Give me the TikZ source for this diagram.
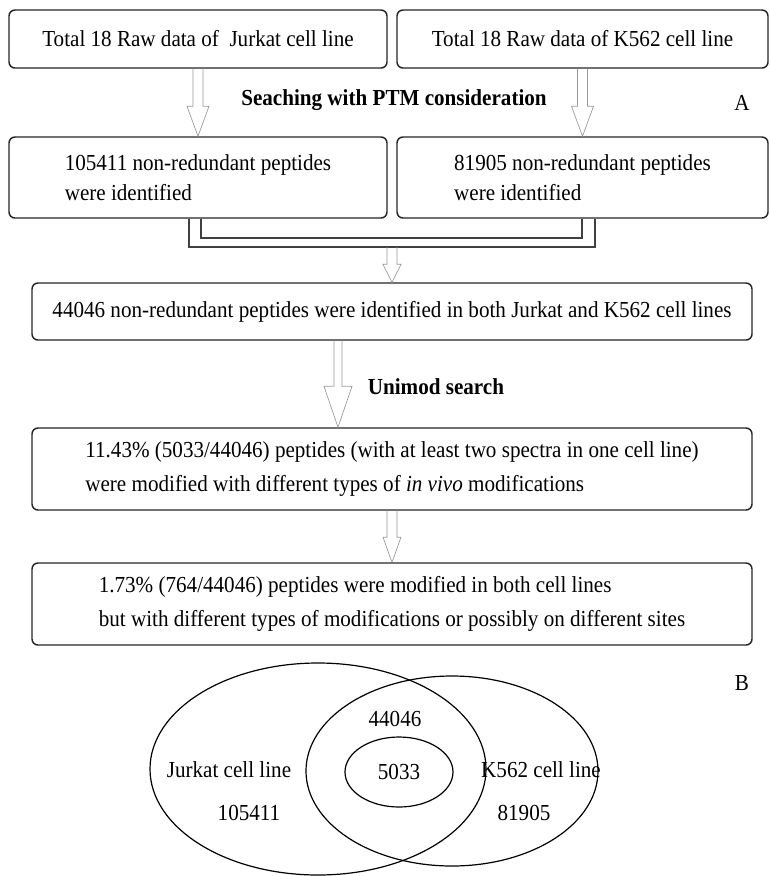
\documentclass[tikz,border=0pt]{standalone}
\usepackage{fontspec}
\setmainfont[FakeStretch=0.92]{Liberation Serif}
\usetikzlibrary{calc}
\tikzset{
  box/.style={draw=black!85, line width=1.1pt, rounded corners=4.5pt, inner sep=0pt, fill=white},
  arrowline/.style={draw=black!40, line width=0.5pt},
  mergeline/.style={draw=black!75, line width=1pt},
  vennline/.style={draw=black, line width=0.9pt},
  txt/.style={font=\fontsize{17.2}{20}\selectfont},
  lbl/.style={font=\bfseries\fontsize{17.2}{20}\selectfont},
}
\newcommand\blockarrow[5]{%
  \draw[arrowline] ($(#1)+(-#3,0)$) -- ($(#2)+(-#3,-#5)$) -- ($(#2)+(-#4,-#5)$) -- (#2)
    -- ($(#2)+(#4,-#5)$) -- ($(#2)+(#3,-#5)$) -- ($(#1)+(#3,0)$);}
\begin{document}
\begin{tikzpicture}[x=0.75pt,y=-0.75pt]
\useasboundingbox[fill=white] (0,0) rectangle (770,876);

% top boxes
\node[box, txt, minimum width=378*0.75pt, minimum height=58*0.75pt] (b1) at (198,39) {Total 18 Raw data of\ \ Jurkat cell line};
\node[box, txt, minimum width=371*0.75pt, minimum height=58*0.75pt] (b2) at (582.5,39) {Total 18 Raw data of K562 cell line};

\node[lbl] (lsearch) at (394,100) {Seaching with PTM consideration};
\node[txt] (lA) at (742,103) {A};

\node[box, align=left, font=\fontsize{17.2}{22.5}\selectfont, minimum width=378*0.75pt, minimum height=81*0.75pt] (b3) at (198,177.5) {105411 non-redundant peptides\\were identified};
\node[box, align=left, font=\fontsize{17.2}{22.5}\selectfont, minimum width=371*0.75pt, minimum height=81*0.75pt] (b4) at (582.5,177.5) {81905 non-redundant peptides\\were identified};

\node[box, txt, minimum width=720*0.75pt, minimum height=57*0.75pt] (b5) at (392,311.5) {44046 non-redundant peptides were identified in both Jurkat and K562 cell lines};

\node[lbl] (lunimod) at (436,387) {Unimod search};

\node[box, align=left, font=\fontsize{17.2}{26}\selectfont, minimum width=720*0.75pt, minimum height=82*0.75pt] (b6) at (392,469) {11.43\% (5033/44046) peptides (with at least two spectra in one cell line)\\were modified with different types of \textit{in vivo} modifications};

\node[box, align=left, font=\fontsize{17.2}{25.5}\selectfont, minimum width=720*0.75pt, minimum height=82*0.75pt] (b7) at (392,604) {1.73\% (764/44046) peptides were modified in both cell lines\\but with different types of modifications or possibly on different sites};

\node[txt] (lB) at (742,683) {B};

% arrows top
\coordinate (a1s) at (b1.south);
\coordinate (a1e) at (b3.north);
\blockarrow{a1s}{a1e}{5}{11}{30}
\coordinate (a2s) at (b2.south);
\coordinate (a2e) at (b4.north);
\blockarrow{a2s}{a2e}{5}{11}{30}

% merge connector
\coordinate (mLo) at (189,247);
\coordinate (mRo) at (595,247);
\coordinate (mLi) at (201,238);
\coordinate (mRi) at (582,238);
\draw[mergeline] (mLo |- b3.south) -- (mLo) -- (mRo) -- (mRo |- b4.south);
\draw[mergeline] (mLi |- b3.south) -- (mLi) -- (mRi) -- (mRi |- b4.south);
\coordinate (ms) at (b5.north |- mLo);
\coordinate (me) at (b5.north);
\blockarrow{ms}{me}{5}{9}{18}

% arrow 3
\coordinate (a3s) at ($(b5.south)+(-54,0)$);
\coordinate (a3e) at (a3s |- b6.north);
\blockarrow{a3s}{a3e}{4}{14}{41}

% arrow 4
\coordinate (a4s) at (b6.south);
\coordinate (a4e) at (b7.north);
\blockarrow{a4s}{a4e}{5}{9}{25}

% Venn diagram
\draw[vennline] (318,769) ellipse [x radius=168, y radius=106];
\draw[vennline] (452,771) ellipse [x radius=146, y radius=95];
\draw[vennline] (399,772) ellipse [x radius=54, y radius=35];
\node[txt] (vj) at (229,770) {Jurkat cell line};
\node[txt] (vjn) at (249,813) {105411};
\node[txt] (vb) at (395,719) {44046};
\node[txt] (vi) at (399,772) {5033};
\node[txt] (vk) at (541,770) {K562 cell line};
\node[txt] (vkn) at (524,813) {81905};
\end{tikzpicture}
\end{document}
